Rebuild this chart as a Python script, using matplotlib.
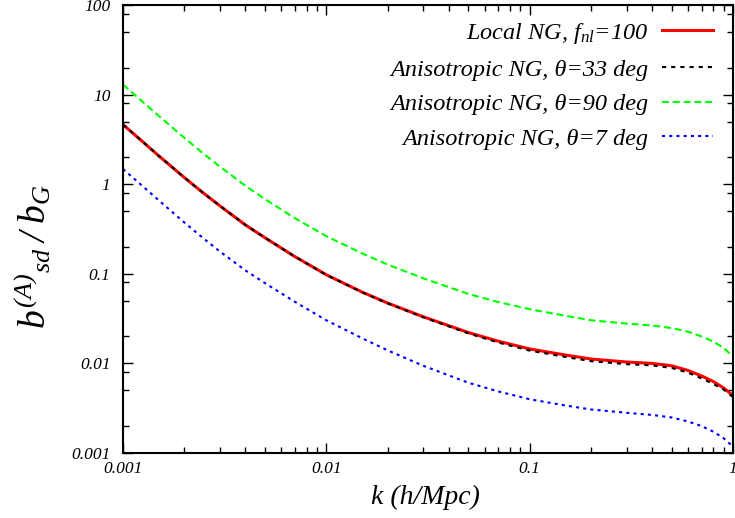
import matplotlib
matplotlib.use("Agg")
import matplotlib.pyplot as plt
from matplotlib.ticker import LogLocator, FixedLocator, FixedFormatter, NullFormatter

# ---------------- data ----------------
k = [0.001, 0.0012, 0.0015, 0.002, 0.0025, 0.003, 0.004, 0.005, 0.007, 0.01,
     0.015, 0.02, 0.03, 0.05, 0.07, 0.1, 0.15, 0.2, 0.3, 0.4, 0.5, 0.6, 0.7,
     0.8, 0.9, 1.0]

local_fnl100 = [4.63, 3.23, 2.07, 1.19, 0.788, 0.572, 0.351, 0.252, 0.1556, 0.0975,
                0.0625, 0.0472, 0.0331, 0.0221, 0.0177, 0.0145, 0.0124, 0.0112,
                0.01036, 0.0100, 0.0094, 0.00835, 0.00725, 0.00628, 0.00531, 0.00438]

aniso_33 = [4.63, 3.23, 2.07, 1.19, 0.788, 0.572, 0.351, 0.252, 0.1556, 0.0972,
            0.0621, 0.0468, 0.0327, 0.0216, 0.0171, 0.0139, 0.0118, 0.0106,
            0.0098, 0.0095, 0.0089, 0.0079, 0.0068, 0.0059, 0.0051, 0.0042]

aniso_90 = [12.97, 9.0, 5.78, 3.30, 2.17, 1.57, 0.96, 0.68, 0.418, 0.263,
            0.1690, 0.1270, 0.0890, 0.0595, 0.0484, 0.0403, 0.0340, 0.0303,
            0.0278, 0.0265, 0.0248, 0.0226, 0.0200, 0.0175, 0.0149, 0.0119]

aniso_7 = [1.48, 1.03, 0.66, 0.375, 0.246, 0.177, 0.109, 0.0785, 0.0487, 0.0303,
           0.0191, 0.0140, 0.0094, 0.00608, 0.00487, 0.00398, 0.00339, 0.00306,
           0.00281, 0.00266, 0.00249, 0.00225, 0.00200, 0.00173, 0.00146, 0.00118]

labels = ["Local NG, $f_{nl}$=100",
          "Anisotropic NG, \u03b8=33 deg",
          "Anisotropic NG, \u03b8=90 deg",
          "Anisotropic NG, \u03b8=7 deg"]

xticks = [0.001, 0.01, 0.1, 1]
xticklabels = ["0.001", "0.01", "0.1", "1"]
yticks = [0.001, 0.01, 0.1, 1, 10, 100]
yticklabels = ["0.001", "0.01", "0.1", "1", "10", "100"]

# ---------------- style ----------------
plt.rcParams["font.family"] = ["Liberation Serif", "DejaVu Serif"]
plt.rcParams["font.style"] = "italic"
plt.rcParams["mathtext.fontset"] = "custom"
plt.rcParams["mathtext.it"] = "Liberation Serif:italic"
plt.rcParams["mathtext.rm"] = "Liberation Serif"
plt.rcParams["lines.scale_dashes"] = False

fig = plt.figure(figsize=(7.35, 5.18), dpi=100)
ax = fig.add_axes([123 / 735, 65 / 518, 610 / 735, 448 / 518])

ax.plot(k, local_fnl100, color="#ff0000", lw=2.2, label=labels[0])
ax.plot(k, aniso_33, color="black", lw=1.5, dashes=(3.0, 3.6), label=labels[1])
ax.plot(k, aniso_90, color="#00ff00", lw=1.5, dashes=(5.0, 2.8), label=labels[2])
ax.plot(k, aniso_7, color="#0000ff", lw=1.5, dashes=(2.2, 3.0), label=labels[3])

ax.set_xscale("log")
ax.set_yscale("log")
ax.set_xlim(0.001, 1)
ax.set_ylim(0.001, 100)

ax.xaxis.set_major_locator(FixedLocator(xticks))
ax.xaxis.set_major_formatter(FixedFormatter(xticklabels))
ax.xaxis.set_minor_locator(LogLocator(base=10, subs=[2, 3, 4, 5, 6, 7, 8, 9], numticks=20))
ax.xaxis.set_minor_formatter(NullFormatter())
ax.yaxis.set_major_locator(FixedLocator(yticks))
ax.yaxis.set_major_formatter(FixedFormatter(yticklabels))
ax.yaxis.set_minor_locator(LogLocator(base=10, subs=[2, 5, 8], numticks=20))
ax.yaxis.set_minor_formatter(NullFormatter())

ax.tick_params(which="both", direction="in", top=True, right=True, width=1.0)
ax.tick_params(which="major", length=7.5, labelsize=12.5)
ax.tick_params(which="minor", length=4)
ax.tick_params(axis="x", which="major", pad=6)
ax.tick_params(axis="y", which="major", pad=9)
for s in ax.spines.values():
    s.set_linewidth(1.5)

ax.set_xlabel("k (h/Mpc)", fontsize=20)
ax.xaxis.set_label_coords((425 - 123) / 610, -(485 - 453) / 448)
ax.set_ylabel(r"$b^{(\mathrm{A})}{}_{sd}\;/\;b_G$", fontsize=27)
ax.yaxis.set_label_coords((54 - 123) / 610, (453 - 256) / 448)

ax.legend(loc="upper right", bbox_to_anchor=(1 - 20 / 610, 1 - 16 / 448),
          frameon=False, markerfirst=False, fontsize=17.5, handlelength=2.1,
          handletextpad=0.55, labelspacing=0.52, borderaxespad=0.0, borderpad=0.0)

fig.savefig("out.png", dpi=100)
